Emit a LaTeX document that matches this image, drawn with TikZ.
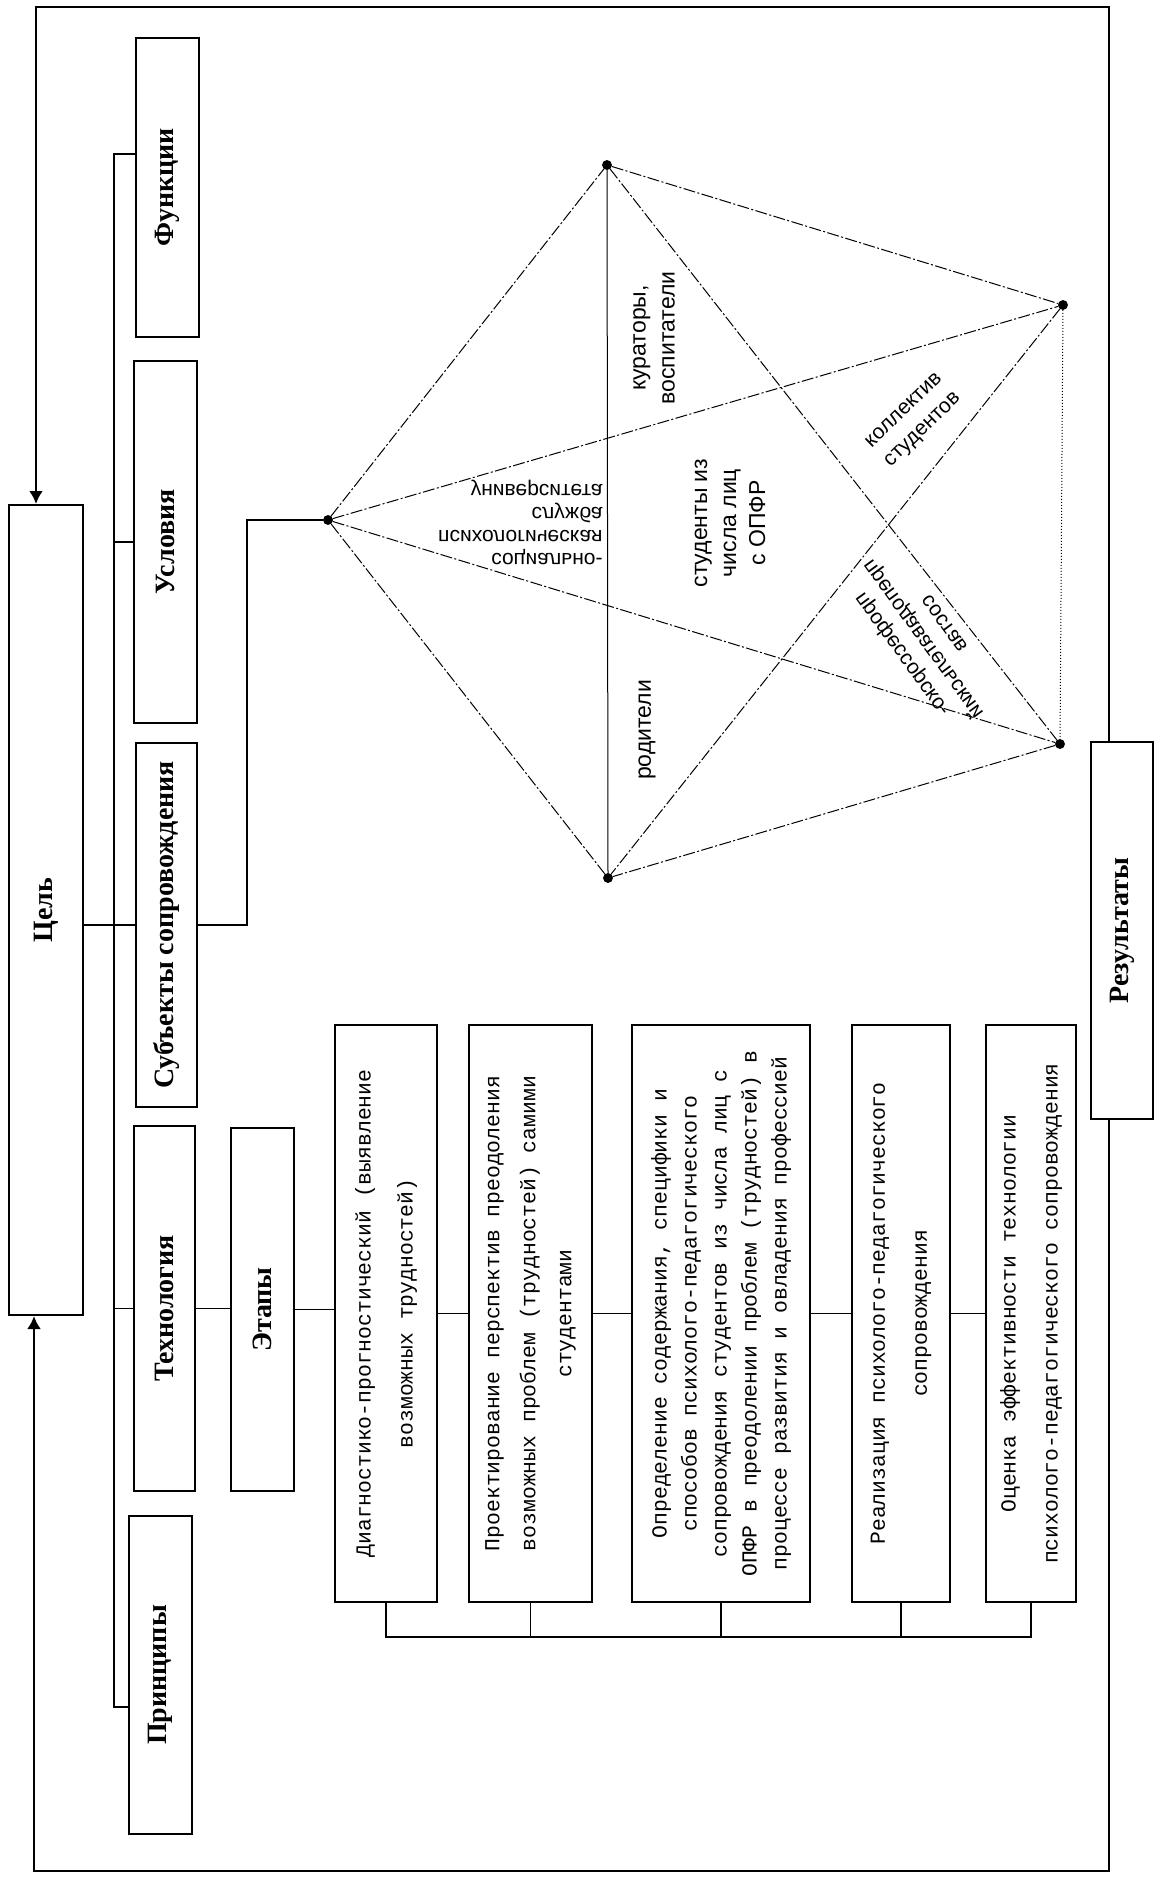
\documentclass[tikz,border=0pt]{standalone}
\usepackage{fontspec}
\setmainfont{Liberation Serif}
\setsansfont{Liberation Sans}
\setmonofont{Liberation Mono}
\usepackage{tikz}
\usetikzlibrary{arrows.meta}

\begin{document}
\begin{tikzpicture}[x = 0.5pt, y = -0.5pt,
      box/.style = {draw, line width = 1pt, rectangle, rotate = 90, inner sep = 0pt,
                    font = \bfseries\fontsize{14}{16}\selectfont},
      stage/.style = {draw, line width = 1pt, rectangle, rotate = 90, inner sep = 0pt,
                      align = center, minimum width = 288.5pt,
                      font = \ttfamily\fontsize{10.7}{#1}\selectfont},
      vertex/.style = {draw, fill, circle, inner sep = 0pt, minimum size = 4.5pt},
      rib/.style = {line width = 0.5pt, dash pattern = on 6pt off 1.2pt on 1pt off 1.2pt},
      lbl/.style = {inner sep = 0pt, align = center, font = \sffamily\fontsize{11.5}{14.5}\selectfont},
      link/.style = {line width = 0.8pt},
      back/.style = {line width = 1.4pt, -{Latex[length = 6.5pt, width = 7pt]}}]
      \useasboundingbox (0,0) rectangle (1156,1877);

      % upper row
      \node[box, minimum width = 405pt, minimum height = 37pt] (cel) at (46,910) {Цель};
      \node[box, minimum width = 149.5pt, minimum height = 31.5pt] (fun) at (167.5,187.5) {Функции};
      \node[box, minimum width = 181pt, minimum height = 31.5pt] (usl) at (165.5,542) {Условия};
      \node[box, minimum width = 182pt, minimum height = 30.5pt] (subj) at (166.5,925) {Субъекты сопровождения};
      \node[box, minimum width = 182.5pt, minimum height = 30.5pt] (tech) at (164.5,1308.5) {Технология};
      \node[box, minimum width = 159pt, minimum height = 31.5pt] (princ) at (160.5,1675) {Принципы};
      \node[box, minimum width = 181.5pt, minimum height = 31.5pt] (etap) at (262.5,1309.5) {Этапы};
      \node[box, minimum width = 188.5pt, minimum height = 31pt] (res) at (1122,930.5) {Результаты};

      % stages
      \node[stage = 21, minimum height = 51pt] (s1) at (386,1313.5)
            {Диагностико-прогностический (выявление\\возможных трудностей)};
      \node[stage = 18, minimum height = 61.5pt] (s2) at (530.5,1313.5)
            {Проектирование перспектив преодоления\\возможных проблем (трудностей) самими\\студентами};
      \node[stage = 15, minimum height = 89pt] (s3) at (721,1313.5)
            {Определение содержания, специфики и\\способов психолого-педагогического\\сопровождения студентов из числа лиц с\\ОПФР в преодолении проблем (трудностей) в\\процессе развития и овладения профессией};
      \node[stage = 21, minimum height = 49pt] (s4) at (901,1313.5)
            {Реализация психолого-педагогического\\сопровождения};
      \node[stage = 21, minimum height = 45pt] (s5) at (1031,1313.5)
            {Оценка эффективности технологии\\психолого-педагогического сопровождения};

      % subjects
      \node[vertex] (pa) at (328,520) {};
      \node[vertex] (pb) at (607,165) {};
      \node[vertex] (pc) at (1063,305) {};
      \node[vertex] (pd) at (1060,744) {};
      \node[vertex] (pe) at (608,878) {};
      \draw[rib] (pa) -- (pb) -- (pc); \draw[rib] (pd) -- (pe) -- (pa);
      \draw[rib] (pa) -- (pc); \draw[rib] (pa) -- (pd);
      \draw[rib] (pb) -- (pd); \draw[rib] (pc) -- (pe);
      \draw[line width = 0.5pt] (pb) -- (pe);
      \draw[line width = 0.5pt, densely dotted] (pc) -- (pd);
      \node[lbl, rotate = 90] (kur) at (654,338) {кураторы,\\воспитатели};
      \node[lbl, rotate = 90] (stud) at (730,523) {студенты из\\числа лиц\\с ОПФР};
      \node[lbl, rotate = 90] (rod) at (647,730) {родители};
      \node[lbl, rotate = 44, font = \sffamily\fontsize{10.5}{13.5}\selectfont] (kol) at (914,421)
            {коллектив\\студентов};
      \node[lbl, yscale = -1, align = right, anchor = east,
            font = \sffamily\fontsize{10.5}{11.5}\selectfont] (soc) at (603,522)
            {социально-\\психологическая\\служба\\университета};
      \node[lbl, rotate = -54, yscale = -1, font = \sffamily\fontsize{10.5}{13}\selectfont] (prof) at (922,640)
            {профессорско-\\преподавательский\\состав};

      % connectors
      \coordinate (bt) at (114,154);
      \coordinate (bb) at (114,1707);
      \coordinate (kk) at (247,520);
      \coordinate (sb) at (0,1637);
      \draw[link] (fun.north |- bt) -- (bt) -- (bb) -- (princ.north |- bb);
      \draw[link] (usl.north) -- (usl.north -| bt);
      \draw[link] (tech.north) -- (tech.north -| bt);
      \draw[link] (cel.south |- subj.north) -- (subj.north);
      \draw[link] (subj.south) -| (kk) -- (pa);
      \draw[link] (tech.south) -- (tech.south -| etap.north);
      \draw[link] (etap.south) -- (etap.south -| s1.north);
      \draw[link] (s1.south) -- (s2.north);
      \draw[link] (s2.south) -- (s3.north);
      \draw[link] (s3.south) -- (s4.north);
      \draw[link] (s4.south) -- (s5.north);
      \draw[link] (s1.west) -- (s1.west |- sb) -- (s5.west |- sb) -- (s5.west);
      \draw[link] (s2.west) -- (s2.west |- sb);
      \draw[link] (s3.west) -- (s3.west |- sb);
      \draw[link] (s4.west) -- (s4.west |- sb);

      % feedback
      \coordinate (tl) at (36,7);
      \coordinate (tr) at (1109,7);
      \coordinate (bl) at (34,1871);
      \coordinate (br) at (1109,1871);
      \draw[back] (res.east -| tr) -- (tr) -- (tl) -- (tl |- cel.east);
      \draw[back] (res.west -| br) -- (br) -- (bl) -- (bl |- cel.west);
\end{tikzpicture}
\end{document}
